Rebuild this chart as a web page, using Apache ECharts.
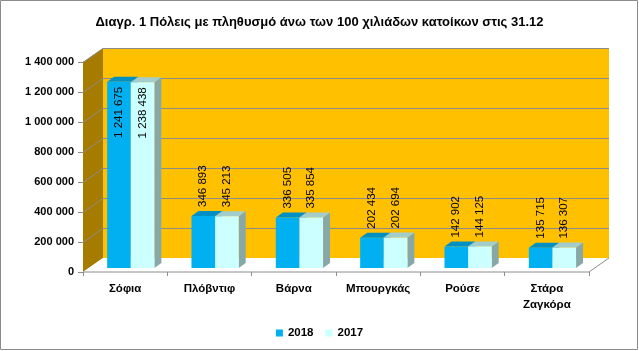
<!DOCTYPE html>
<html>
<head>
<meta charset="utf-8">
<style>
  html, body { margin: 0; padding: 0; background: #fff; }
  #chart { width: 639px; height: 351px; }
</style>
<script src="https://cdn.jsdelivr.net/npm/echarts@6/dist/echarts.min.js"></script>
</head>
<body>
<div id="chart"></div>
<script>
const titleText = 'Διαγρ. 1 Πόλεις με πληθυσμό άνω των 100 χιλιάδων κατοίκων στις 31.12'
const cities = ['Σόφια', 'Πλόβντιφ', 'Βάρνα', 'Μπουργκάς', 'Ρούσε', 'Στάρα\nΖαγκόρα']
const values2018 = [1241675, 346893, 336505, 202434, 142902, 135715]
const values2017 = [1238438, 345213, 335854, 202694, 144125, 136307]
const yTicks = [0, 200000, 400000, 600000, 800000, 1000000, 1200000, 1400000]

const font = 'Liberation Sans'
// 3d depth of walls and of the bars (px)
const wallDx = 20, wallDy = -14
const barShiftX = 5.6, barShiftY = -4
const barDx = 7, barDy = -5

function fmt(v) {
  return String(v).replace(/\B(?=(\d{3})+(?!\d))/g, ' ')
}

function renderWalls(params, api) {
  const cs = params.coordSys
  const x0 = cs.x, x1 = cs.x + cs.width
  const yb = cs.y + cs.height, yt = cs.y
  const children = [
    { type: 'polygon', shape: { points: [[x0 + wallDx, yt + wallDy], [x1 + wallDx, yt + wallDy], [x1 + wallDx, yb + wallDy], [x0 + wallDx, yb + wallDy]] },
      style: { fill: '#FFC000' } },
    { type: 'polygon', shape: { points: [[x0, yb], [x0, yt], [x0 + wallDx, yt + wallDy], [x0 + wallDx, yb + wallDy]] },
      style: { fill: '#A67C00' } },
    { type: 'polygon', shape: { points: [[x0, yb], [x1, yb], [x1 + wallDx, yb + wallDy], [x0 + wallDx, yb + wallDy]] },
      style: { fill: '#fff' } },
    { type: 'polyline', shape: { points: [[x0, yb], [x1, yb], [x1 + wallDx, yb + wallDy]] },
      style: { stroke: '#8c8c8c', lineWidth: 1, fill: null } }
  ]
  yTicks.forEach(v => {
    if (v === 0) return
    const y = Math.round(api.coord([0, v])[1]) + 0.5
    children.push({ type: 'polyline', shape: { points: [[x0, y], [x0 + wallDx, y + wallDy], [x1 + wallDx, y + wallDy]] },
      style: { stroke: '#8c8c8c', lineWidth: 1, fill: null } })
  })
  return { type: 'group', children }
}

function makeBarRenderer(side, colors) {
  return function (params, api) {
    const i = api.value(0), v = api.value(1)
    const top = api.coord([i, v])
    const base = api.coord([i, 0])
    const w = api.size([1, 0])[0] * 0.28
    const left = top[0] + barShiftX + (side === 0 ? -w : 0)
    const right = left + w
    const yt = top[1] + barShiftY
    const yb = base[1] + barShiftY
    const children = [
      { type: 'polygon', shape: { points: [[right, yb], [right, yt], [right + barDx, yt + barDy], [right + barDx, yb + barDy]] },
        style: { fill: colors.side } },
      { type: 'polygon', shape: { points: [[left, yt], [right, yt], [right + barDx, yt + barDy], [left + barDx, yt + barDy]] },
        style: { fill: colors.top } },
      { type: 'rect', shape: { x: left, y: yt, width: w, height: yb - yt },
        style: { fill: colors.front } }
    ]
    // Sofia's labels do not fit above the bar, so they go inside
    const inside = v > 1000000
    children.push({
      type: 'text',
      x: left + w / 2,
      y: inside ? yt + 5 : yt + barDy - 4,
      rotation: Math.PI / 2,
      style: {
        text: fmt(v),
        align: inside ? 'right' : 'left',
        verticalAlign: 'middle',
        fill: '#000',
        font: '11.5px "' + font + '"'
      }
    })
    return { type: 'group', children }
  }
}

const chart = echarts.init(document.getElementById('chart'))
chart.setOption({
  animation: false,
  title: {
    text: titleText,
    left: 'center',
    top: 11,
    textStyle: { fontFamily: font, fontSize: 13, fontWeight: 'bold', color: '#000' }
  },
  legend: {
    data: ['2018', '2017'],
    left: 'center',
    top: 322,
    icon: 'rect',
    itemWidth: 7,
    itemHeight: 7,
    itemGap: 12,
    textStyle: { fontFamily: font, fontSize: 11.5, fontWeight: 'bold', color: '#000' }
  },
  graphic: [{
    type: 'rect',
    shape: { x: 0.5, y: 0.5, width: 637, height: 349 },
    style: { fill: null, stroke: '#8c8c8c', lineWidth: 1 },
    z: 100
  }],
  grid: { left: 83, right: 50, top: 62, bottom: 79 },
  xAxis: {
    type: 'category',
    data: cities,
    axisLine: { show: false },
    axisTick: { show: true, length: 4, lineStyle: { color: '#8c8c8c' } },
    axisLabel: { margin: 9, fontFamily: font, fontSize: 11.5, fontWeight: 'bold', color: '#000', lineHeight: 16, interval: 0 }
  },
  yAxis: {
    type: 'value',
    min: 0,
    max: 1400000,
    interval: 200000,
    splitLine: { show: false },
    axisLine: { show: true, lineStyle: { color: '#8c8c8c' } },
    axisTick: { show: true, length: 5, lineStyle: { color: '#8c8c8c' } },
    axisLabel: { margin: 9, formatter: fmt, fontFamily: font, fontSize: 11, fontWeight: 'bold', color: '#000' }
  },
  series: [
    {
      type: 'custom',
      name: 'walls',
      z: 1,
      silent: true,
      renderItem: renderWalls,
      data: [[0, 0]]
    },
    {
      type: 'custom',
      name: '2018',
      z: 2,
      itemStyle: { color: '#00B0F0' },
      renderItem: makeBarRenderer(0, { front: '#00B0F0', top: '#0090C4', side: '#0080AE' }),
      data: values2018.map((v, i) => [i, v])
    },
    {
      type: 'custom',
      name: '2017',
      z: 3,
      itemStyle: { color: '#CCFFFF' },
      renderItem: makeBarRenderer(1, { front: '#CCFFFF', top: '#A3CCCC', side: '#88A8A8' }),
      data: values2017.map((v, i) => [i, v])
    }
  ]
})
</script>
</body>
</html>
